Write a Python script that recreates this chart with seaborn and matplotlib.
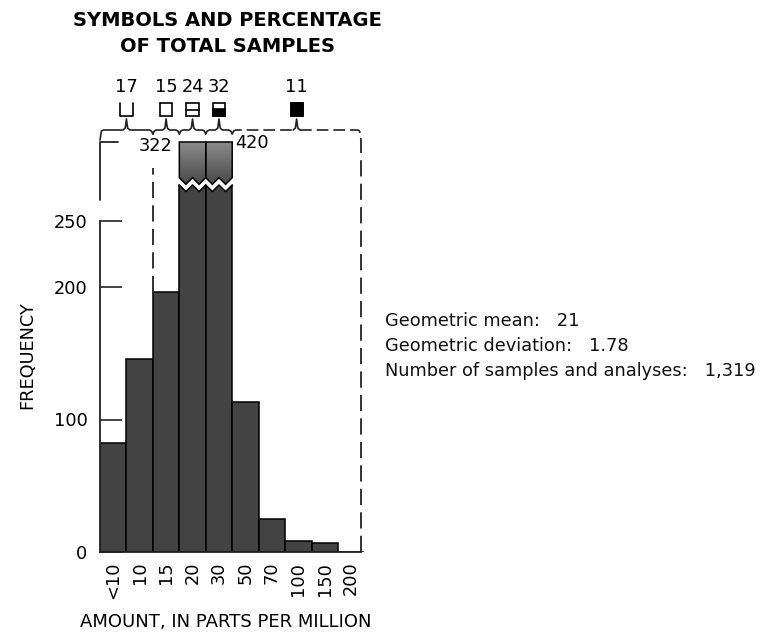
import numpy as np
import pandas as pd
import matplotlib
matplotlib.use("Agg")
import matplotlib.pyplot as plt
from matplotlib.patches import Polygon, Rectangle
import seaborn as sns

# ---------------- data ----------------
categories = ["<10", "10", "15", "20", "30", "50", "70", "100", "150", "200"]
frequency = [82, 146, 196, 322, 420, 113, 25, 8, 7, 0]
yticks = [0, 100, 200, 250]
group_pct = [17, 15, 24, 32, 11]
group_members = [[0, 1], [2], [3], [4], [5, 6, 7, 8, 9]]
group_symbols = ["cup", "open", "line", "half", "full"]
title_lines = ["SYMBOLS AND PERCENTAGE", "OF TOTAL SAMPLES"]
stats_labels = ["Geometric mean:", "Geometric deviation:", "Number of samples and analyses:"]
stats_values = ["21", "1.78", "1,319"]
x_title = "AMOUNT, IN PARTS PER MILLION"
y_title = "FREQUENCY"

# ---------------- layout ----------------
sns.set_theme(style="white")
plt.rcParams['font.family'] = ['DejaVu Sans']
plt.rcParams['text.color'] = 'black'
plt.rcParams['xtick.color'] = 'black'
plt.rcParams['ytick.color'] = 'black'
W, H = 765, 637
fig = plt.figure(figsize=(W / 100, H / 100), dpi=100)
PXU = 1.325       # pixels per frequency unit
BPX = 26.44       # pixels per bar
ax = fig.add_axes([100 / W, 85 / H, (W - 100) / W, 552 / H])


def X(px):
    return (px - 100) / BPX - 0.5


def Y(py):
    return (552 - py) / PXU


FS = 12.8
CAP = 277  # axis break level for off-scale bars
disp = [min(v, CAP) for v in frequency]
df = pd.DataFrame({"amount": categories, "freq": disp})
bar_color = "#434343"
sns.barplot(data=df, x="amount", y="freq", order=categories, color=bar_color,
            saturation=1, edgecolor="black", linewidth=1.1, width=1.0, ax=ax)

ax.set_xlim(-0.5, X(W))
ax.set_ylim(0, Y(0))
ax.set_xlabel("")
ax.set_ylabel("")
for s in ["top", "right"]:
    ax.spines[s].set_visible(False)
right_edge = X(361)
ax.spines["left"].set_bounds(0, 250)
ax.spines["bottom"].set_bounds(-0.5, right_edge)
for s in ["left", "bottom"]:
    ax.spines[s].set_color("#222222")
    ax.spines[s].set_linewidth(1.3)
ax.set_yticks(yticks)
ax.set_yticklabels([str(t) for t in yticks], fontsize=FS)
ax.tick_params(axis="y", direction="in", length=16, width=1.2, color="#222222",
               labelcolor="black", pad=9, left=True)
ax.set_xticks(range(len(categories)))
ax.set_xticklabels(categories, rotation=90, fontsize=FS)
ax.tick_params(axis="x", length=0, pad=7, labelcolor="black")
ax.grid(False)

# ---------------- broken bars ----------------
for i, v in enumerate(frequency):
    if v <= CAP:
        continue
    x0, x1 = i - 0.5, i + 0.5
    xs = np.linspace(x0, x1, 5)
    lower = np.array([CAP, CAP - 5, CAP, CAP - 5, CAP])
    cut = np.column_stack([np.r_[xs, x1 + 0.02, x0 - 0.02],
                           np.r_[lower, CAP + 2, CAP + 2]])
    ax.add_patch(Polygon(cut, closed=True, facecolor="white", edgecolor="none", zorder=3))
    ax.plot(xs, lower, color="black", lw=1.1, zorder=4)
    off = 5.5
    top = Y(142)
    upper = lower + off
    poly = np.column_stack([np.r_[xs, x1, x0], np.r_[upper, top, top]])
    patch = Polygon(poly, closed=True, facecolor="none", edgecolor="black", lw=1.1, zorder=5)
    ax.add_patch(patch)
    grad = np.linspace(0, 1, 64).reshape(-1, 1)
    im = ax.imshow(grad, extent=[x0, x1, CAP - 5 + off, top], origin="lower",
                   cmap=matplotlib.colors.LinearSegmentedColormap.from_list(
                       "g", ["#4a4a4a", "#8c8c8c"]),
                   aspect="auto", zorder=4, interpolation="bilinear")
    im.set_clip_path(patch)
ax.text(X(172), Y(146), str(frequency[3]), ha="right", va="center", fontsize=FS)
ax.text(X(235), Y(143), str(frequency[4]), ha="left", va="center", fontsize=FS)
ax.set_xlim(-0.5, X(W))
ax.set_ylim(0, Y(0))

# ---------------- grouping lines ----------------
lc = "#222222"
ax.plot([-0.5, -0.5, X(118)], [Y(200), Y(142), Y(142)], color=lc, lw=1.3, clip_on=False)
b1 = group_members[0][-1] + 0.5
ax.plot([b1, b1], [frequency[2], Y(168)], color=lc, lw=1.3, ls=(0, (9, 4)))
ax.plot([right_edge, right_edge], [0, Y(140)], color=lc, lw=1.3, ls=(0, (9, 4)))

base, dip, tip = Y(130), Y(134), Y(119)

bounds = []
for k, mem in enumerate(group_members):
    a = mem[0] - 0.5
    b = mem[-1] + 0.5 if k < len(group_members) - 1 else right_edge
    bounds.append((a, b))
for k, (a, b) in enumerate(bounds):
    c = (a + b) / 2
    e = 0.13
    start = Y(140) if k == 0 else dip
    end = Y(140) if k == len(bounds) - 1 else dip
    xs = [a, a + e * 0.4, a + e, c - e, c - e * 0.35, c, c + e * 0.35, c + e, b - e, b - e * 0.4, b]
    ys = [start, base - 0.8, base, base, base + 1.5, tip, base + 1.5, base, base, base - 0.8, end]
    if k < len(bounds) - 1:
        ax.plot(xs, ys, color=lc, lw=1.2, clip_on=False)
    else:
        ax.plot(xs[:4], ys[:4], color=lc, lw=1.2, ls=(0, (7, 3)), clip_on=False)
        ax.plot(xs[3:8], ys[3:8], color=lc, lw=1.2, clip_on=False)
        ax.plot(xs[7:], ys[7:], color=lc, lw=1.2, ls=(0, (7, 3)), clip_on=False)

    sw, sh = 0.46, Y(103) - Y(116)
    sy0 = Y(116)
    sx0 = c - sw / 2
    kind = group_symbols[k]
    if kind == "cup":
        ax.plot([sx0, sx0, sx0 + sw, sx0 + sw], [sy0 + sh, sy0, sy0, sy0 + sh],
                color="black", lw=1.2)
    else:
        ax.add_patch(Rectangle((sx0, sy0), sw, sh, facecolor="white", edgecolor="black", lw=1.2))
        if kind == "line":
            ax.plot([sx0, sx0 + sw], [sy0 + sh / 2] * 2, color="black", lw=1.2)
        elif kind == "half":
            ax.add_patch(Rectangle((sx0, sy0), sw, sh * 0.55, facecolor="black", edgecolor="black", lw=1.2))
        elif kind == "full":
            ax.add_patch(Rectangle((sx0, sy0), sw, sh, facecolor="black", edgecolor="black", lw=1.2))
    ax.text(c, Y(87), str(group_pct[k]), ha="center", va="center", fontsize=FS)

for j, line in enumerate(title_lines):
    ax.text(X(227), Y(20 + j * 27), line, ha="center", va="center",
            fontsize=14, fontweight="bold")

fig.text(27 / W, 1 - 355 / H, y_title, rotation=90, ha="center", va="center", fontsize=FS)
fig.text(226 / W, 1 - 622 / H, x_title, ha="center", va="center", fontsize=13)

for j, (lab, val) in enumerate(zip(stats_labels, stats_values)):
    fig.text(385 / W, 1 - (321 + j * 25) / H, f"{lab}   {val}", ha="left", va="center",
             fontsize=FS, color="#111111")

fig.savefig("out.png", dpi=100, facecolor="white")
